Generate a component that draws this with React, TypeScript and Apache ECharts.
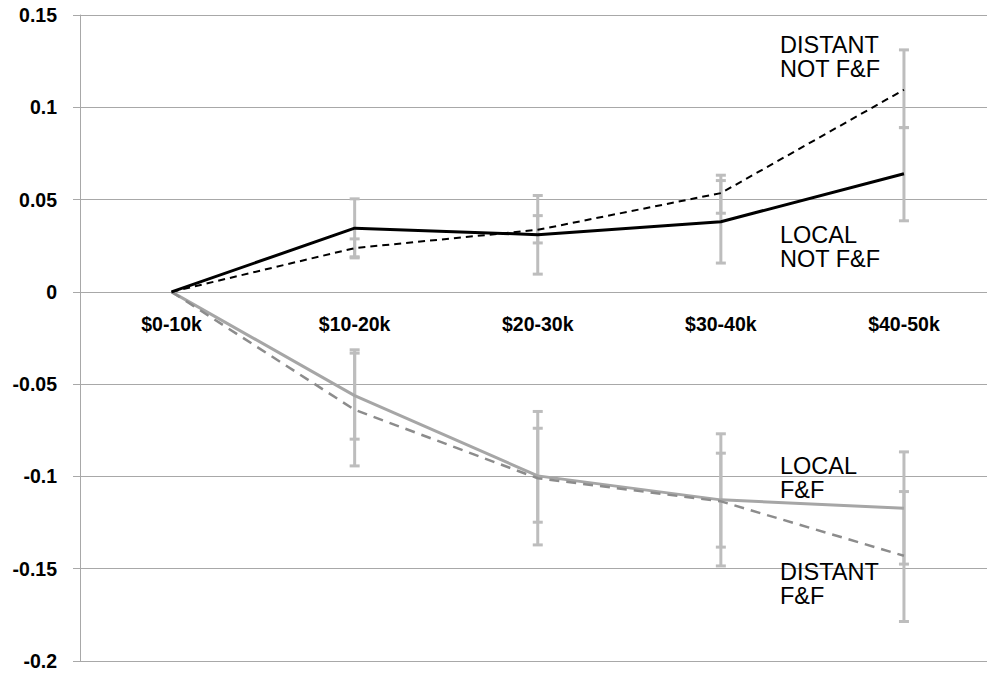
import React, { useEffect, useRef } from "react";
import * as echarts from "echarts";

const categories = ["$0-10k", "$10-20k", "$20-30k", "$30-40k", "$40-50k"];

const localNotFF = [0, 0.0345, 0.031, 0.038, 0.064];
const distantNotFF = [0, 0.0237, 0.0336, 0.0535, 0.1095];
const localFF = [0, -0.0562, -0.0997, -0.1127, -0.1172];
const distantFF = [0, -0.0639, -0.101, -0.1135, -0.143];

const localNotFFHigh = [null, 0.0504, 0.0522, 0.0632, 0.089];
const localNotFFLow = [null, 0.0184, 0.0096, 0.0156, 0.0385];
const distantNotFFHigh = [null, 0.0287, 0.0413, 0.0603, 0.1311];
const distantNotFFLow = [null, 0.019, 0.0265, 0.0426, 0.089];
const localFFHigh = [null, -0.0314, -0.0739, -0.0874, -0.0867];
const localFFLow = [null, -0.0798, -0.1248, -0.1383, -0.1475];
const distantFFHigh = [null, -0.0332, -0.0648, -0.0769, -0.1082];
const distantFFLow = [null, -0.0943, -0.1371, -0.1485, -0.1786];

const yTicks = { min: -0.2, max: 0.15, interval: 0.05 };

const seriesLabels = [
  { lines: ["DISTANT", "NOT F&F"], top: 32 },
  { lines: ["LOCAL", "NOT F&F"], top: 222 },
  { lines: ["LOCAL", "F&F"], top: 453 },
  { lines: ["DISTANT", "F&F"], top: 559 },
];

function errData(low: (number | null)[], high: (number | null)[]) {
  const out: number[][] = [];
  categories.forEach((_, i) => {
    const l = low[i];
    const h = high[i];
    if (l != null && h != null) out.push([i, l, h]);
  });
  return out;
}

const ERR_COLOR = "#bdbdbd";

function errSeries(name: string, low: (number | null)[], high: (number | null)[]) {
  return {
    name,
    type: "custom",
    z: 1,
    silent: true,
    encode: { x: 0, y: [1, 2] },
    data: errData(low, high),
    renderItem: (params: any, api: any) => {
      const x = api.value(0);
      const lo = api.value(1);
      const hi = api.value(2);
      const pLo = api.coord([x, lo]);
      const pHi = api.coord([x, hi]);
      const hw = 5;
      const st = { stroke: ERR_COLOR, lineWidth: 3 };
      return {
        type: "group",
        children: [
          { type: "line", shape: { x1: pLo[0], y1: pLo[1], x2: pHi[0], y2: pHi[1] }, style: st },
          { type: "line", shape: { x1: pLo[0] - hw, y1: pLo[1], x2: pLo[0] + hw, y2: pLo[1] }, style: st },
          { type: "line", shape: { x1: pHi[0] - hw, y1: pHi[1], x2: pHi[0] + hw, y2: pHi[1] }, style: st },
        ],
      };
    },
  };
}

function lineSeries(name: string, data: number[], color: string, width: number, type: any) {
  return {
    name,
    type: "line",
    z: 5,
    data,
    symbol: "none",
    lineStyle: { color, width, type },
    itemStyle: { color },
  };
}

const labelFont = '23.5px "Liberation Sans", Arial, sans-serif';

export default function App() {
  const ref = useRef<HTMLDivElement>(null);
  useEffect(() => {
    if (!ref.current) return;
    const chart = echarts.init(ref.current, null, { renderer: "svg" });
    const gridColor = "#a8a8a8";
    const H = 675;
    const gridTop = 15;
    const gridBottom = 14;
    const plotH = H - gridTop - gridBottom;
    const zeroY = gridTop + ((yTicks.max - 0) / (yTicks.max - yTicks.min)) * plotH;
    const xOffset = -(H - gridBottom - zeroY);

    const graphics: any[] = [];
    seriesLabels.forEach((l) => {
      l.lines.forEach((t, j) => {
        graphics.push({
          type: "text",
          x: 780,
          y: l.top + 1 + j * 23.5,
          z: 10,
          style: { text: t, font: labelFont, fill: "#000", verticalAlign: "top" },
        });
      });
    });

    chart.setOption({
      animation: false,
      backgroundColor: "#ffffff",
      grid: {
        left: 80,
        right: -8.5,
        top: gridTop,
        bottom: gridBottom,
        containLabel: false,
        outerBoundsMode: "none",
      },
      xAxis: {
        type: "category",
        data: categories,
        boundaryGap: true,
        position: "bottom",
        offset: xOffset,
        axisLine: { show: true, onZero: false, lineStyle: { color: gridColor, width: 1 } },
        axisTick: { show: false },
        splitLine: { show: false },
        axisLabel: {
          color: "#000",
          fontWeight: "bold",
          fontSize: 19.5,
          fontFamily: '"Liberation Sans", Arial, sans-serif',
          margin: 22,
        },
      },
      yAxis: {
        type: "value",
        min: yTicks.min,
        max: yTicks.max,
        interval: yTicks.interval,
        axisLine: { show: true, lineStyle: { color: gridColor, width: 1 } },
        axisTick: { show: true, length: 7, lineStyle: { color: gridColor, width: 1 } },
        splitLine: { show: true, lineStyle: { color: gridColor, width: 1 } },
        axisLabel: {
          color: "#000",
          fontWeight: "bold",
          fontSize: 19.5,
          fontFamily: '"Liberation Sans", Arial, sans-serif',
          margin: 23,
          formatter: (v: number) => String(parseFloat(v.toFixed(2))),
        },
      },
      series: [
        errSeries("e1", localNotFFLow, localNotFFHigh),
        errSeries("e2", distantNotFFLow, distantNotFFHigh),
        errSeries("e3", localFFLow, localFFHigh),
        errSeries("e4", distantFFLow, distantFFHigh),
        lineSeries("LOCAL F&F", localFF, "#a6a6a6", 3, "solid"),
        lineSeries("DISTANT F&F", distantFF, "#8c8c8c", 2.5, [10, 7]),
        lineSeries("LOCAL NOT F&F", localNotFF, "#000000", 3, "solid"),
        lineSeries("DISTANT NOT F&F", distantNotFF, "#000000", 2, [7, 5]),
      ],
      graphic: graphics,
    });
    return () => chart.dispose();
  }, []);
  return (
    <div
      ref={ref}
      style={{ position: "absolute", left: 0, top: 0, width: 987, height: 675, background: "#fff" }}
    />
  );
}
